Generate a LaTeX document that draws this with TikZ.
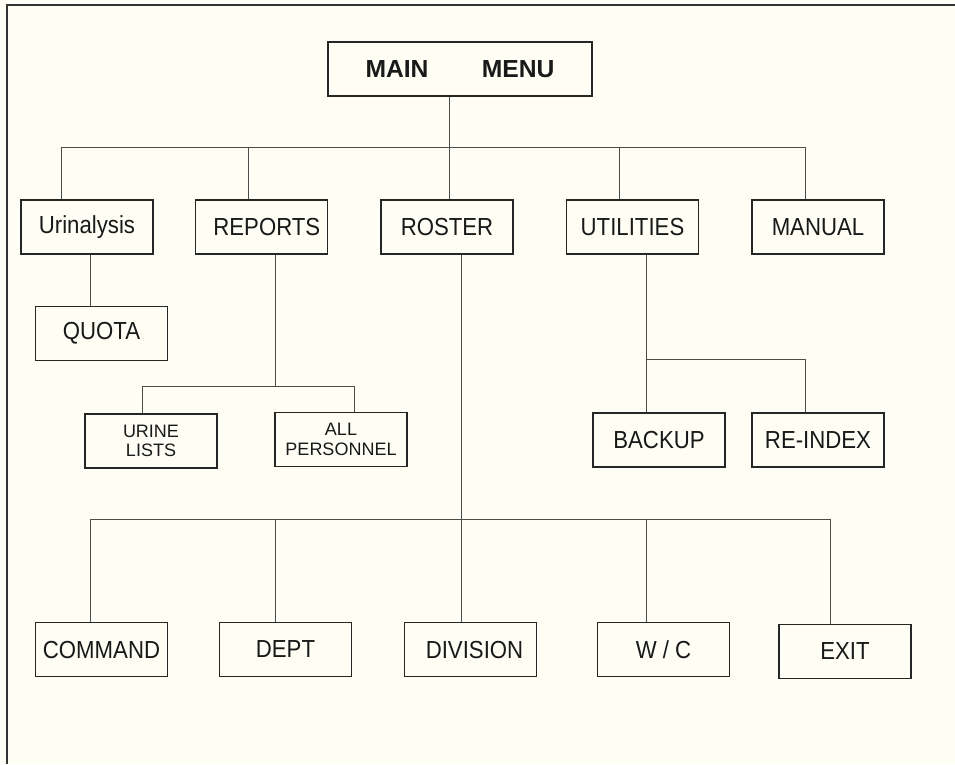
\documentclass[tikz,border=0pt]{standalone}
\usepackage{fontspec}
\setmainfont{Liberation Sans}
\newfontfamily\condfont[FakeStretch=0.9]{Liberation Sans}
\begin{document}
\begin{tikzpicture}[x=0.75pt,y=-0.75pt,
  box/.style={draw=black!85,line width=1.1pt,inner sep=0pt,minimum width=99pt,minimum height=40.5pt,
     font=\condfont\fontsize{18.5}{20}\selectfont,text=black!90},
  smallbox/.style={box,font=\fontsize{13.5}{14.5}\selectfont,align=center},
  conn/.style={draw=black!70,line width=0.75pt},
  frame/.style={draw=black!80,line width=1.5pt}]
\fill[white!96!yellow] (0,0) rectangle (955,764);
\useasboundingbox (0,0) rectangle (955,764);
\draw[frame] (7,764) -- (7,5) -- (955,5);

% boxes
\node[box,minimum width=198pt,font=\fontsize{18.5}{20}\selectfont\bfseries] (main) at (460,69) {MAIN\hspace{40pt}MENU\hspace{24pt}};
\node[box] (uri) at (87,227) {Urinalysis};
\node[box] (rep) at (261.5,227) {\hspace{8pt}REPORTS};
\node[box] (ros) at (447,227) {ROSTER\hspace{15pt}};
\node[box] (uti) at (632.5,227) {UTILITIES};
\node[box] (man) at (818,227) {MANUAL};
\node[box] (quota) at (101.5,333.5) {QUOTA\hspace{15pt}};
\node[smallbox] (urine) at (151,441) {URINE\\LISTS};
\node[smallbox] (allp) at (341,439.5) {ALL\\PERSONNEL};
\node[box] (backup) at (659,440) {BACKUP};
\node[box] (reindex) at (818,440) {RE-INDEX};
\node[box] (cmd) at (101.5,649.5) {COMMAND};
\node[box] (dept) at (285.5,649.5) {DEPT\hspace{8pt}};
\node[box] (div) at (470.5,649.5) {\hspace{6pt}DIVISION};
\node[box] (wc) at (663.5,649.5) {W / C\hspace{6pt}};
\node[box] (exit) at (845,651.5) {EXIT\hspace{16pt}};

% bus coordinates
\coordinate (b0) at (449,147);
\coordinate (bU) at (61,147);
\coordinate (bR) at (248,147);
\coordinate (bT) at (619,147);
\coordinate (bM) at (805,147);
\coordinate (q0) at (90,280);
\coordinate (r0) at (275,386);
\coordinate (rL) at (142,386);
\coordinate (rR) at (354,386);
\coordinate (s0) at (461,519);
\coordinate (sC) at (90,519);
\coordinate (sD) at (275,519);
\coordinate (sW) at (646,519);
\coordinate (sE) at (830,519);
\coordinate (u0) at (646,359);
\coordinate (uR) at (805,359);

% connectors
\draw[conn] (main.south -| b0) -- (b0);
\draw[conn] (bU) -- (bM);
\draw[conn] (bU) -- (uri.north -| bU);
\draw[conn] (bR) -- (rep.north -| bR);
\draw[conn] (b0) -- (ros.north -| b0);
\draw[conn] (bT) -- (uti.north -| bT);
\draw[conn] (bM) -- (man.north -| bM);

\draw[conn] (uri.south -| q0) -- (quota.north -| q0);

\draw[conn] (rep.south -| r0) -- (r0);
\draw[conn] (rL) -- (rR);
\draw[conn] (rL) -- (urine.north -| rL);
\draw[conn] (rR) -- (allp.north -| rR);

\draw[conn] (uti.south -| u0) -- (u0);
\draw[conn] (u0) -- (uR);
\draw[conn] (u0) -- (backup.north -| u0);
\draw[conn] (uR) -- (reindex.north -| uR);

\draw[conn] (ros.south -| s0) -- (s0);
\draw[conn] (sC) -- (sE);
\draw[conn] (sC) -- (cmd.north -| sC);
\draw[conn] (sD) -- (dept.north -| sD);
\draw[conn] (s0) -- (div.north -| s0);
\draw[conn] (sW) -- (wc.north -| sW);
\draw[conn] (sE) -- (exit.north -| sE);
\end{tikzpicture}
\end{document}
